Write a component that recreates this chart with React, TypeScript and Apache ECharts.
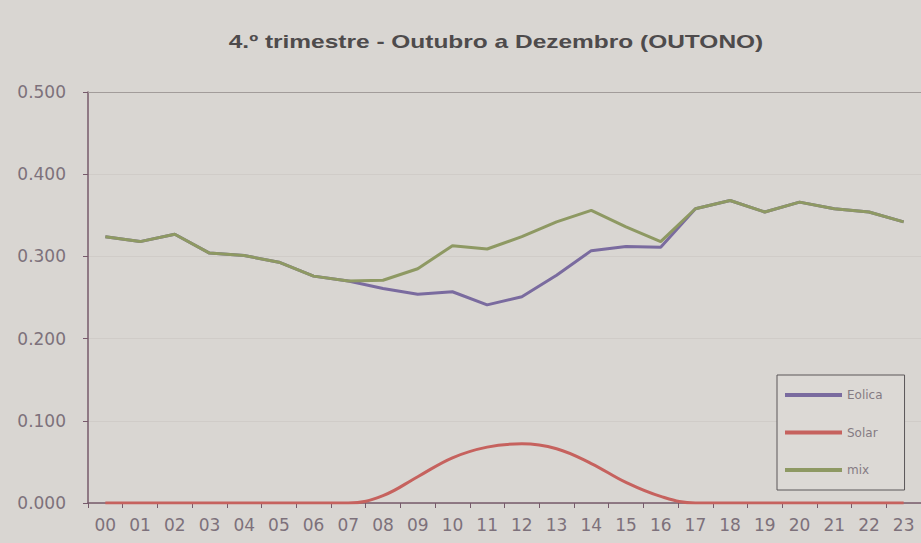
import React, { useEffect, useRef } from "react";
import * as echarts from "echarts";

const hours = ["00","01","02","03","04","05","06","07","08","09","10","11","12","13","14","15","16","17","18","19","20","21","22","23"];
const eolica = [0.324,0.318,0.327,0.304,0.301,0.293,0.276,0.270,0.261,0.254,0.257,0.241,0.251,0.277,0.307,0.312,0.311,0.358,0.368,0.354,0.366,0.358,0.354,0.342];
const solar = [0,0,0,0,0,0,0,0,0.009,0.032,0.055,0.068,0.072,0.066,0.048,0.025,0.008,0,0,0,0,0,0,0];
const mix = [0.324,0.318,0.327,0.304,0.301,0.293,0.276,0.270,0.271,0.285,0.313,0.309,0.324,0.342,0.356,0.336,0.318,0.358,0.368,0.354,0.366,0.358,0.354,0.342];
const seriesNames = ["Eolica", "Solar", "mix"];
const titleText = "4.º trimestre - Outubro a Dezembro (OUTONO)";

export default function App() {
  const ref = useRef<HTMLDivElement>(null);
  useEffect(() => {
    document.body.style.margin = "0";
    if (!ref.current) return;
    const chart = echarts.init(ref.current, null, { renderer: "svg" });
    const labelColor = "#7d717b";
    const axisColor = "#765a6a";
    const font = "DejaVu Sans";
    chart.setOption({
      animation: false,
      backgroundColor: "#d9d6d2",
      graphic: [
        {
          type: "text",
          x: 496,
          y: 42,
          scaleX: 1.36,
          style: {
            text: titleText,
            fontFamily: "Liberation Sans",
            fontSize: 18,
            fontWeight: "bold",
            fill: "#4e4b4c",
            textAlign: "center",
            textVerticalAlign: "middle",
          },
        },
      ],
      legend: {
        data: seriesNames,
        orient: "vertical",
        left: 777,
        top: 375,
        padding: [14, 22, 14, 8],
        itemWidth: 57,
        itemHeight: 4,
        itemGap: 25.5,
        icon: "rect",
        borderColor: "#5a5658",
        borderWidth: 1,
        backgroundColor: "#dcd9d5",
        textStyle: { color: "#857b83", fontSize: 12, fontFamily: font },
      },
      grid: { left: 88, right: -10, top: 92, bottom: 40 },
      xAxis: [
        {
          type: "category",
          data: hours,
          boundaryGap: true,
          axisLine: { show: true, lineStyle: { color: axisColor, width: 1.5 } },
          axisTick: { show: true, length: 5, lineStyle: { color: axisColor } },
          axisLabel: { color: labelColor, fontSize: 17, fontFamily: font, margin: 13, interval: 0 },
          splitLine: { show: false },
        },
        {
          type: "category",
          data: hours,
          position: "top",
          axisLine: { show: true, lineStyle: { color: "#a29c9a", width: 1 } },
          axisTick: { show: false },
          axisLabel: { show: false },
        },
      ],
      yAxis: {
        type: "value",
        min: 0,
        max: 0.5,
        interval: 0.1,
        axisLine: { show: true, lineStyle: { color: axisColor, width: 1.5 } },
        axisTick: { show: true, length: 5, lineStyle: { color: axisColor } },
        axisLabel: {
          color: labelColor,
          fontSize: 17,
          fontFamily: font,
          margin: 22,
          formatter: (v: number) => v.toFixed(3),
        },
        splitLine: { show: true, lineStyle: { color: "#d0ccc8", width: 1 } },
      },
      series: [
        {
          name: seriesNames[0],
          type: "line",
          data: eolica,
          symbol: "none",
          lineStyle: { color: "#7a6b9f", width: 3 },
          itemStyle: { color: "#7a6b9f" },
        },
        {
          name: seriesNames[1],
          type: "line",
          data: solar,
          symbol: "none",
          smooth: 0.4,
          lineStyle: { color: "#c6625e", width: 3 },
          itemStyle: { color: "#c6625e" },
        },
        {
          name: seriesNames[2],
          type: "line",
          data: mix,
          symbol: "none",
          lineStyle: { color: "#8e9963", width: 3 },
          itemStyle: { color: "#8e9963" },
        },
      ],
    });
    return () => chart.dispose();
  }, []);
  return <div ref={ref} style={{ width: 921, height: 543 }} />;
}
